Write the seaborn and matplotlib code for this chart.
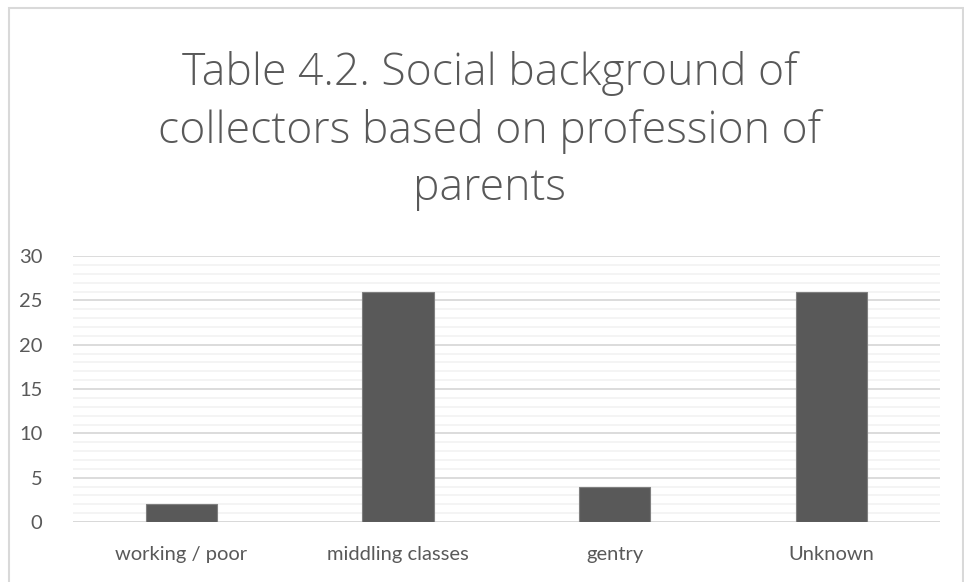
import matplotlib
matplotlib.use("Agg")
import matplotlib.pyplot as plt
import seaborn as sns
import pandas as pd
from matplotlib.ticker import MultipleLocator
from matplotlib.patches import Rectangle

categories = ["working / poor", "middling classes", "gentry", "Unknown"]
values = [2, 26, 4, 26]
title = "Table 4.2. Social background of\ncollectors based on profession of\nparents"

sns.set_theme(style="white")
plt.rcParams['font.family'] = ['Lato', 'DejaVu Sans']

df = pd.DataFrame({"cat": categories, "val": values})

fig = plt.figure(figsize=(9.64, 5.82), dpi=100)
ax = fig.add_axes([0.0757, 0.103, 0.899, 0.457])
sns.barplot(data=df, x="cat", y="val", color="#595959", width=0.33, ax=ax,
            saturation=1, edgecolor="#7f7f7f", linewidth=0.8, zorder=3)
ax.set_ylim(0, 30)
ax.yaxis.set_major_locator(MultipleLocator(5))
ax.yaxis.set_minor_locator(MultipleLocator(1))
ax.grid(which="major", axis="y", color="#d9d9d9", linewidth=1.3, zorder=0)
ax.grid(which="minor", axis="y", color="#f2f2f2", linewidth=1.2, zorder=0)
ax.set_axisbelow(True)
for s in ax.spines.values():
    s.set_visible(False)
ax.axhline(0, color="#d9d9d9", linewidth=1.3, zorder=2)
ax.set_xlabel("")
ax.set_ylabel("")
ax.tick_params(axis="both", which="both", length=0, labelsize=14.5, labelcolor="#595959")
ax.tick_params(axis="y", pad=22)
ax.tick_params(axis="x", pad=17)

fig.text(0.508, 0.775, title, ha="center", va="center", fontsize=32,
         color="#595959", linespacing=1.38, fontweight="light",
         family=["Open Sans", "DejaVu Sans"])

fig.patches.append(Rectangle((0.009, -0.01), 0.99, 0.996, transform=fig.transFigure,
                             fill=False, edgecolor="#d9d9d9", linewidth=1.5))
fig.savefig("out.png", dpi=100)
